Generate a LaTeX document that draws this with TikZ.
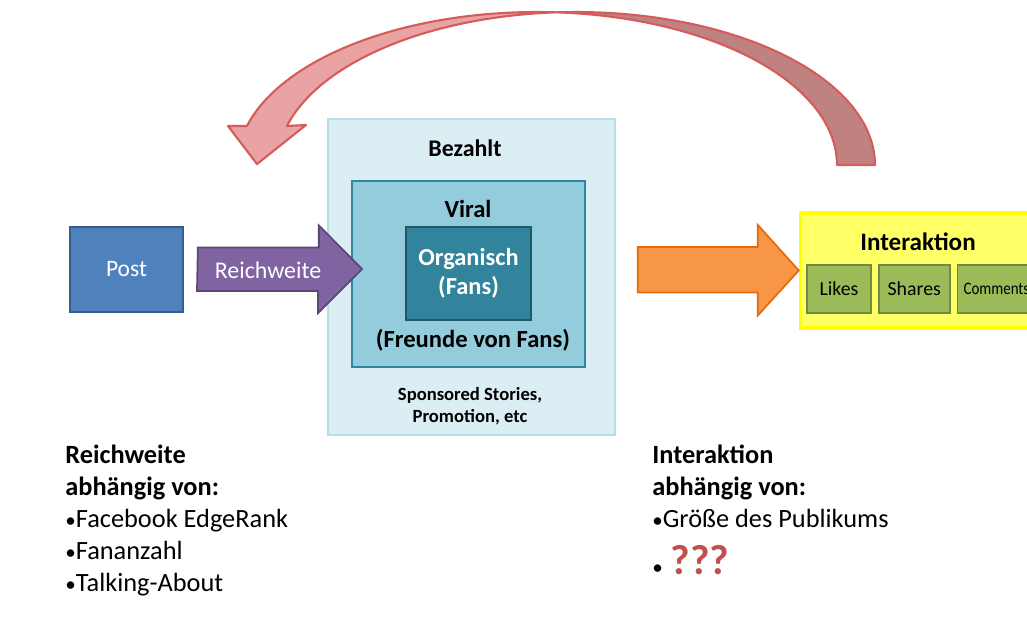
\documentclass[tikz,border=0pt]{standalone}
\usepackage{fontspec}
\setmainfont{Carlito}
\usetikzlibrary{calc,positioning}
\definecolor{postblue}{HTML}{4F81BD}
\definecolor{postline}{HTML}{385D8A}
\definecolor{rwpurple}{HTML}{8064A2}
\definecolor{rwline}{HTML}{5C4776}
\definecolor{paidfill}{HTML}{DBEEF4}
\definecolor{paidline}{HTML}{B7DEE8}
\definecolor{viralfill}{HTML}{93CDDD}
\definecolor{viralline}{HTML}{31859C}
\definecolor{orgfill}{HTML}{31849B}
\definecolor{orgline}{HTML}{205867}
\definecolor{ioorange}{HTML}{F79646}
\definecolor{ioline}{HTML}{E46C0A}
\definecolor{interfill}{HTML}{FFFF66}
\definecolor{interline}{HTML}{FFFF00}
\definecolor{likegreen}{HTML}{9BBB59}
\definecolor{likeline}{HTML}{71893F}
\definecolor{loopfront}{HTML}{E9A3A3}
\definecolor{loopback}{HTML}{BF8280}
\definecolor{loopline}{HTML}{D65C5C}
\definecolor{qred}{HTML}{C0504D}
\newcommand{\bul}{{\fontsize{12}{12}\selectfont•}}
\tikzset{
  box/.style={draw, line width=1pt, inner sep=0pt, align=center},
  likebox/.style={box, fill=likegreen, draw=likeline, minimum width=1.28cm, minimum height=0.96cm, font=\fontsize{11.3}{13}\selectfont},
  lbl/.style={inner sep=0pt, align=center, font=\fontsize{14}{17}\selectfont\bfseries},
  notes/.style={inner sep=0pt, anchor=base west, font=\fontsize{15}{18.3}\selectfont}
}
\begin{document}
\begin{tikzpicture}[x=0.02cm,y=-0.02cm]
\useasboundingbox (0,0) rectangle (1027,639);
% boxes
\node (post) [box, fill=postblue, draw=postline, minimum width=2.26cm, minimum height=1.70cm, text=white, font=\fontsize{13.4}{16}\selectfont] at (126.5,269.5) {Post};
\node (paid) [box, fill=paidfill, draw=paidline, minimum width=5.74cm, minimum height=6.32cm] at (471.5,277) {};
\node (viral) [box, fill=viralfill, draw=viralline, minimum width=4.66cm, minimum height=3.72cm] at (468.5,274) {};
\node (org) [box, fill=orgfill, draw=orgline, minimum width=2.50cm, minimum height=1.86cm, text=white, font=\fontsize{13.9}{16.5}\selectfont\bfseries] at (468.5,273.5) {Organisch\\(Fans)};
\node (paidlbl) [lbl, font=\fontsize{13.6}{16}\selectfont\bfseries] at (465,148) {Bezahlt};
\node (virallbl) [lbl] at (468,209) {Viral};
\node (friends) [lbl] at (473,340) {(Freunde von Fans)};
\node (sponsored) [lbl, font=\fontsize{10.6}{12.6}\selectfont\bfseries] at (470,406) {Sponsored Stories,\\Promotion, etc};
% Interaktion
\node (inter) [box, fill=interfill, draw=interline, line width=2pt, minimum width=4.84cm, minimum height=2.30cm] at (921.5,270.5) {};
\node (interlbl) [lbl, font=\fontsize{14.3}{17}\selectfont\bfseries] at (918,242) {Interaktion};
\node (likes) [likebox] at (839,289) {Likes};
\node (shares) [likebox, minimum width=1.42cm, right=0.12cm of likes] {Shares};
\node (comments) [likebox, minimum width=1.56cm, right=0.12cm of shares, font=\fontsize{10}{11}\selectfont] {\scalebox{0.85}[1]{Comments}};
% block arrows
\coordinate (rwstart) at ($(post.east)+(14,0)$);
\coordinate (rwtip) at (362,269);
\draw[fill=rwpurple, draw=rwline, line width=1pt] (rwstart) ++(0,-22) -- ++(121,0) -- ++(0,-22) -- (rwtip) -- ++(-44,44) -- ++(0,-22) -- ++(-121,0) -- cycle;
\node (rwlbl) [inner sep=0pt, text=white, font=\fontsize{13.6}{16}\selectfont] at (268,270) {Reichweite};
\coordinate (iostart) at ($(paid.east)+(22,-7)$);
\coordinate (iotip) at (inter.west);
\draw[fill=ioorange, draw=ioline, line width=1pt] (iostart) ++(0,-23) -- ++(120,0) -- ++(0,-22) -- (iotip) -- ++(-41,45) -- ++(0,-23) -- ++(-120,0) -- cycle;
% curved arrow back to the post
\draw[fill=loopback, draw=loopline, line width=1.2pt, line join=round]
  plot[domain=86.27:0, samples=50] ({537+300*cos(\x)},{165-153*sin(\x)})
  -- plot[domain=0:93.73, samples=50] ({576+299*cos(\x)},{165-153*sin(\x)}) -- cycle;
\draw[fill=loopfront, draw=loopline, line width=1.2pt, line join=round]
  plot[domain=165.23:86.27, samples=60] ({537+300*cos(\x)},{165-153*sin(\x)})
  -- plot[domain=93.73:165.23, samples=60] ({576+299*cos(\x)},{165-153*sin(\x)})
  -- (306,125) -- (257,164) -- (228,126) -- cycle;
% notes
\node (reachnotes) [notes] at (65,463) {\begin{tabular}[t]{@{}l@{}}\textbf{Reichweite}\\ \textbf{abhängig von:}\\ \bul Facebook EdgeRank\\ \bul Fananzahl\\ \bul Talking-About\end{tabular}};
\node (internotes) [notes] at (652,463) {\begin{tabular}[t]{@{}l@{}}\textbf{Interaktion}\\ \textbf{abhängig von:}\\ \bul Größe des Publikums\\[5pt] \bul\hspace{0.3em}{\color{qred}\fontsize{24}{26}\selectfont\bfseries ???}\end{tabular}};
\end{tikzpicture}
\end{document}
